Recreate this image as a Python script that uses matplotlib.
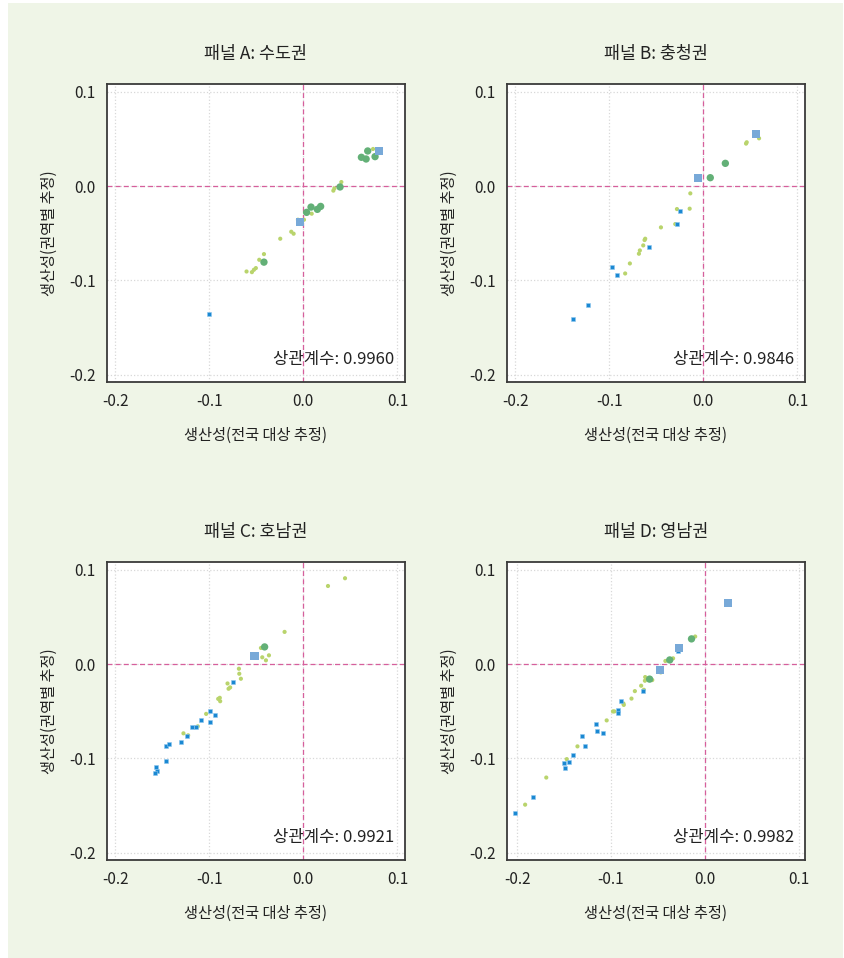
import numpy as np
import matplotlib
matplotlib.use('Agg')
import matplotlib.pyplot as plt
from matplotlib.patches import Rectangle

plt.rcParams['font.family'] = ['Noto Sans CJK KR', 'DejaVu Sans']
plt.rcParams['axes.unicode_minus'] = False

# ---- data: (x = 전국 대상 추정, y = 권역별 추정) ----
# panel A: 수도권
a_sq_x = [0.0805, -0.0035]
a_sq_y = [0.0367, -0.0378]
a_gr_x = [0.0684, 0.0617, 0.0667, 0.0762, 0.0390, 0.0082, 0.0035, 0.0149, 0.0184, -0.0418]
a_gr_y = [0.0371, 0.0304, 0.0286, 0.0311, -0.0010, -0.0223, -0.0279, -0.0247, -0.0216, -0.0806]
a_yg_x = [0.0741, 0.0404, 0.0330, 0.0319, 0.0089, 0.0007, -0.0057, -0.0245, -0.0128, -0.0103,
          -0.0468, -0.0418, -0.0603, -0.0546, -0.0525, -0.0504]
a_yg_y = [0.0392, 0.0042, -0.0025, -0.0049, -0.0293, -0.0357, -0.0357, -0.0558, -0.0484, -0.0505,
          -0.0781, -0.0721, -0.0905, -0.0912, -0.0887, -0.0869]
a_bx_x = [-0.1004]
a_bx_y = [-0.1357]

# panel B: 충청권
b_sq_x = [0.0557, -0.0060]
b_sq_y = [0.0555, 0.0081]
b_gr_x = [0.0234, 0.0074]
b_gr_y = [0.0240, 0.0088]
b_yg_x = [0.0454, 0.0461, 0.0592, -0.0138, -0.0145, -0.0280, -0.0298, -0.0450, -0.0617, -0.0624,
          -0.0638, -0.0674, -0.0684, -0.0780, -0.0830]
b_yg_y = [0.0449, 0.0463, 0.0505, -0.0078, -0.0240, -0.0244, -0.0403, -0.0438, -0.0558, -0.0572,
          -0.0629, -0.0682, -0.0717, -0.0820, -0.0926]
b_bx_x = [-0.0252, -0.0280, -0.0582, -0.0975, -0.0915, -0.1223, -0.1383]
b_bx_y = [-0.0265, -0.0399, -0.0647, -0.0855, -0.0940, -0.1261, -0.1410]

# panel C: 호남권
c_sq_x = [-0.0518]
c_sq_y = [0.0089]
c_gr_x = [-0.0411]
c_gr_y = [0.0181]
c_yg_x = [0.0443, 0.0262, -0.0199, -0.0450, -0.0436, -0.0397, -0.0365, -0.0684, -0.0680, -0.0663,
          -0.0805, -0.0794, -0.0777, -0.0904, -0.0887, -0.0883, -0.1032, -0.1121, -0.1273, -0.1223]
c_yg_y = [0.0908, 0.0826, 0.0340, 0.0170, 0.0071, 0.0039, 0.0092, -0.0050, -0.0103, -0.0156,
          -0.0206, -0.0262, -0.0248, -0.0369, -0.0358, -0.0394, -0.0528, -0.0660, -0.0734, -0.0755]
c_bx_x = [-0.0752, -0.0989, -0.0936, -0.0996, -0.1085, -0.1177, -0.1145, -0.1234, -0.1298, -0.1457,
          -0.1429, -0.1461, -0.1564, -0.1550, -0.1571]
c_bx_y = [-0.0195, -0.0496, -0.0543, -0.0617, -0.0596, -0.0670, -0.0670, -0.0759, -0.0823, -0.0865,
          -0.0851, -0.1032, -0.1092, -0.1128, -0.1156]

# panel D: 영남권
d_sq_x = [0.0243, -0.0279, -0.0482]
d_sq_y = [0.0649, 0.0170, -0.0064]
d_gr_x = [-0.0143, -0.0375, -0.0589]
d_gr_y = [0.0266, 0.0043, -0.0160]
d_yg_x = [-0.0104, -0.0339, -0.0421, -0.0471, -0.0636, -0.0639, -0.0561, -0.0679, -0.0746, -0.0650,
          -0.0782, -0.0868, -0.0864, -0.0979, -0.0964, -0.1046, -0.1357, -0.1471, -0.1689, -0.1914]
d_yg_y = [0.0291, 0.0060, 0.0032, -0.0089, -0.0138, -0.0177, -0.0170, -0.0230, -0.0287, -0.0273,
          -0.0366, -0.0418, -0.0433, -0.0502, -0.0502, -0.0597, -0.0872, -0.1007, -0.1202, -0.1489]
d_bx_x = [-0.0289, -0.0657, -0.0893, -0.0929, -0.0929, -0.1164, -0.1146, -0.1082, -0.1311, -0.1282,
          -0.1407, -0.1443, -0.1496, -0.1493, -0.1829, -0.2025]
d_bx_y = [0.0138, -0.0291, -0.0394, -0.0482, -0.0518, -0.0631, -0.0713, -0.0727, -0.0762, -0.0865,
          -0.0965, -0.1039, -0.1046, -0.1100, -0.1408, -0.1574]

titles = ['패널 A: 수도권', '패널 B: 충청권', '패널 C: 호남권', '패널 D: 영남권']
corrs = ['0.9960', '0.9846', '0.9921', '0.9982']
ticks = [-0.2, -0.1, 0.0, 0.1]
tick_labels = ['-0.2', '-0.1', '0.0', '0.1']

panels = [
  (a_sq_x, a_sq_y, a_gr_x, a_gr_y, a_yg_x, a_yg_y, a_bx_x, a_bx_y),
  (b_sq_x, b_sq_y, b_gr_x, b_gr_y, b_yg_x, b_yg_y, b_bx_x, b_bx_y),
  (c_sq_x, c_sq_y, c_gr_x, c_gr_y, c_yg_x, c_yg_y, c_bx_x, c_bx_y),
  (d_sq_x, d_sq_y, d_gr_x, d_gr_y, d_yg_x, d_yg_y, d_bx_x, d_bx_y),
]

W, H = 844, 958
fig = plt.figure(figsize=(W / 100, H / 100), dpi=100, facecolor='white')
fig.patches.append(Rectangle((8 / W, 0), 835 / W, 955 / H, transform=fig.transFigure,
                             facecolor='#eff5e7', edgecolor='none', zorder=-10))

# axes boxes in pixels: (left, top)
boxes = [(107, 84), (507, 84), (107, 562), (507, 562)]
size = 298

for i, (sx, sy, gx, gy, yx, yy, bx, by) in enumerate(panels):
  left, top = boxes[i]
  ax = fig.add_axes([left / W, 1 - (top + size) / H, size / W, size / H])
  ax.set_facecolor('white')
  ax.set_xlim(-0.2085, 0.108)
  ax.set_ylim(-0.2075, 0.108)
  if i == 3:
    ax.set_xlim(-0.2107, 0.1065)

  ax.grid(True, linestyle=':', color='#d8d8d8', linewidth=0.9)
  ax.set_axisbelow(True)
  ax.axhline(0, color='#d65f9c', linestyle='--', linewidth=0.9, dashes=(4, 2.5), zorder=1)
  ax.axvline(0, color='#d65f9c', linestyle='--', linewidth=0.9, dashes=(4, 2.5), zorder=1)

  ax.scatter(yx, yy, s=9, marker='o', color='#b9d46c', edgecolors='none', zorder=3)
  ax.scatter(bx, by, s=6, marker='s', color='#1a88d2', edgecolors='#8cc6ee', linewidths=0.4, zorder=3)
  ax.scatter(gx, gy, s=28, marker='o', color='#63b077', edgecolors='none', zorder=4)
  ax.scatter(sx, sy, s=34, marker='s', color='#78a9d8', edgecolors='none', zorder=4)

  ax.set_xticks(ticks)
  ax.set_xticklabels(tick_labels)
  ax.set_yticks(ticks)
  ax.set_yticklabels(tick_labels)
  ax.tick_params(length=0, labelsize=11, colors='#222222', pad=8)

  for sp in ax.spines.values():
    sp.set_color('#3a3a3a')
    sp.set_linewidth(1.3)

  ax.set_title(titles[i], fontsize=12.5, color='#222222', pad=18)
  ax.set_xlabel('생산성(전국 대상 추정)', fontsize=11, color='#222222', labelpad=12)
  ax.set_ylabel('생산성(권역별 추정)', fontsize=11, color='#222222', labelpad=8)
  ax.text(0.965, 0.048, '상관계수: ' + corrs[i], transform=ax.transAxes,
          ha='right', va='bottom', fontsize=12, color='#222222', zorder=5)

fig.savefig('out.png', dpi=100, facecolor=fig.get_facecolor())
